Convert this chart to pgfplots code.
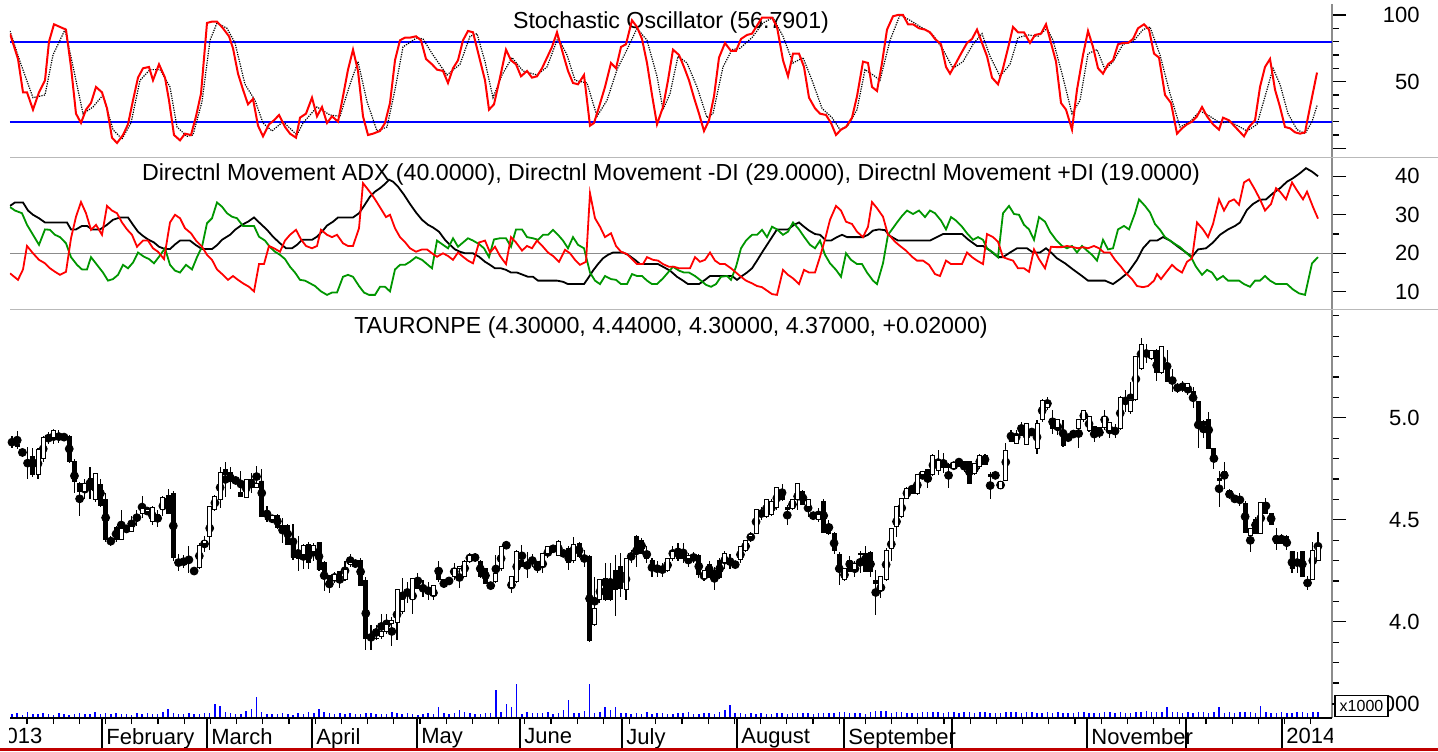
\documentclass[border=0pt]{standalone}
\usepackage{fontspec}
\setmainfont{Liberation Sans}
\usepackage{pgfplots}
\pgfplotsset{compat=1.18}
\usepackage{pgfplotstable}

\definecolor{kred}{RGB}{255,0,0}
\definecolor{digreen}{RGB}{0,150,0}
\definecolor{lvlblue}{RGB}{0,0,255}
\definecolor{sepgray}{RGB}{185,185,185}
\definecolor{axgray}{RGB}{140,140,140}
\definecolor{framered}{RGB}{192,0,0}
\newcommand{\chartfont}{\fontsize{11}{13}\selectfont}
\newcommand{\titlefont}{\fontsize{11.6}{13}\selectfont}

% daily candles, open high low close (PLN)
\pgfplotstableread{
o h l c
4.90 4.91 4.85 4.90
4.87 4.935 4.845 4.86
4.845 4.85 4.81 4.83
4.85 4.855 4.70 4.85
4.81 4.85 4.71 4.72
4.72 4.85 4.70 4.845
4.80 4.91 4.785 4.905
4.91 4.93 4.87 4.91
4.905 4.945 4.87 4.94
4.93 4.94 4.875 4.93
4.91 4.92 4.89 4.91
4.91 4.915 4.78 4.785
4.785 4.80 4.63 4.69
4.68 4.685 4.52 4.64
4.64 4.70 4.60 4.68
4.70 4.76 4.60 4.65
4.60 4.73 4.585 4.725
4.675 4.70 4.56 4.57
4.60 4.63 4.39 4.405
4.41 4.42 4.37 4.39
4.46 4.47 4.39 4.405
4.405 4.548 4.40 4.455
4.455 4.47 4.44 4.445
4.445 4.52 4.44 4.465
4.51 4.55 4.47 4.51
4.53 4.617 4.507 4.555
4.54 4.555 4.53 4.548
4.49 4.565 4.475 4.56
4.525 4.548 4.466 4.515
4.548 4.615 4.52 4.61
4.617 4.65 4.53 4.53
4.63 4.64 4.30 4.316
4.305 4.33 4.25 4.275
4.30 4.327 4.262 4.29
4.30 4.37 4.237 4.305
4.25 4.26 4.237 4.245
4.267 4.385 4.26 4.376
4.383 4.42 4.343 4.398
4.42 4.567 4.35 4.567
4.551 4.62 4.545 4.613
4.60 4.76 4.556 4.73
4.747 4.785 4.61 4.72
4.73 4.76 4.65 4.69
4.698 4.70 4.685 4.69
4.633 4.74 4.61 4.613
4.61 4.698 4.61 4.698
4.698 4.727 4.63 4.66
4.66 4.763 4.66 4.678
4.69 4.747 4.515 4.515
4.515 4.567 4.49 4.50
4.50 4.52 4.49 4.52
4.52 4.53 4.455 4.46
4.47 4.51 4.388 4.46
4.47 4.48 4.38 4.381
4.40 4.48 4.305 4.316
4.34 4.42 4.25 4.31
4.33 4.38 4.26 4.375
4.38 4.39 4.26 4.29
4.343 4.385 4.30 4.376
4.388 4.39 4.25 4.254
4.29 4.30 4.152 4.245
4.225 4.23 4.14 4.19
4.20 4.245 4.19 4.23
4.245 4.25 4.165 4.205
4.205 4.30 4.20 4.254
4.28 4.33 4.27 4.29
4.29 4.30 4.27 4.295
4.30 4.31 4.18 4.18
4.20 4.22 3.862 3.92
3.93 3.985 3.862 3.915
3.918 3.985 3.91 3.92
3.93 4.04 3.914 3.95
3.95 4.04 3.94 3.985
3.99 4.025 3.88 4.005
3.997 4.16 3.91 4.16
4.05 4.213 4.04 4.11
4.14 4.197 4.09 4.142
4.107 4.213 4.04 4.213
4.213 4.237 4.163 4.164
4.164 4.205 4.123 4.156
4.16 4.197 4.107 4.163
4.131 4.176 4.107 4.176
4.245 4.30 4.197 4.205
4.205 4.21 4.164 4.20
4.20 4.21 4.19 4.205
4.221 4.286 4.205 4.262
4.262 4.27 4.164 4.27
4.221 4.303 4.221 4.295
4.295 4.335 4.29 4.327
4.32 4.335 4.295 4.31
4.295 4.305 4.215 4.221
4.262 4.265 4.188 4.188
4.18 4.19 4.164 4.176
4.197 4.327 4.19 4.237
4.262 4.37 4.25 4.368
4.385 4.39 4.36 4.37
4.17 4.221 4.139 4.221
4.197 4.35 4.19 4.343
4.30 4.376 4.27 4.27
4.28 4.34 4.212 4.286
4.30 4.33 4.27 4.30
4.295 4.30 4.237 4.278
4.27 4.33 4.237 4.335
4.335 4.37 4.31 4.368
4.36 4.37 4.345 4.35
4.327 4.40 4.32 4.395
4.345 4.35 4.32 4.32
4.36 4.37 4.254 4.29
4.30 4.417 4.29 4.38
4.384 4.39 4.31 4.32
4.343 4.35 4.27 4.343
4.32 4.327 3.90 3.91
3.985 4.221 3.98 4.066
4.107 4.205 4.09 4.205
4.213 4.286 4.10 4.107
4.20 4.286 4.10 4.11
4.25 4.327 4.03 4.156
4.27 4.335 4.12 4.164
4.156 4.31 4.107 4.31
4.343 4.35 4.29 4.343
4.417 4.425 4.27 4.335
4.40 4.41 4.335 4.335
4.335 4.37 4.29 4.31
4.30 4.31 4.221 4.27
4.265 4.30 4.22 4.262
4.26 4.29 4.221 4.25
4.25 4.31 4.245 4.31
4.31 4.37 4.30 4.343
4.343 4.385 4.30 4.31
4.343 4.385 4.29 4.31
4.31 4.335 4.27 4.327
4.335 4.34 4.29 4.335
4.327 4.33 4.213 4.23
4.213 4.25 4.20 4.25
4.28 4.30 4.215 4.215
4.25 4.27 4.155 4.215
4.30 4.31 4.21 4.215
4.29 4.345 4.26 4.335
4.30 4.33 4.26 4.295
4.295 4.30 4.26 4.295
4.303 4.368 4.29 4.368
4.35 4.40 4.34 4.40
4.417 4.44 4.39 4.43
4.433 4.55 4.43 4.55
4.55 4.56 4.50 4.55
4.515 4.60 4.51 4.60
4.525 4.60 4.52 4.59
4.56 4.662 4.55 4.66
4.645 4.675 4.59 4.60
4.56 4.57 4.475 4.55
4.555 4.60 4.55 4.60
4.597 4.68 4.55 4.68
4.64 4.645 4.57 4.575
4.565 4.60 4.515 4.597
4.53 4.54 4.50 4.52
4.50 4.557 4.49 4.525
4.59 4.60 4.44 4.44
4.47 4.50 4.425 4.435
4.433 4.44 4.33 4.35
4.33 4.34 4.18 4.254
4.205 4.26 4.20 4.26
4.30 4.32 4.245 4.245
4.254 4.30 4.22 4.286
4.33 4.345 4.237 4.335
4.335 4.37 4.245 4.245
4.34 4.345 4.22 4.245
4.20 4.254 4.033 4.188
4.155 4.22 4.115 4.22
4.205 4.36 4.20 4.35
4.36 4.46 4.30 4.458
4.466 4.565 4.417 4.565
4.515 4.605 4.51 4.605
4.605 4.66 4.60 4.654
4.66 4.67 4.63 4.63
4.63 4.72 4.62 4.72
4.72 4.735 4.70 4.735
4.745 4.75 4.654 4.70
4.72 4.82 4.715 4.817
4.744 4.84 4.72 4.79
4.76 4.825 4.728 4.755
4.77 4.78 4.655 4.755
4.752 4.785 4.745 4.78
4.80 4.805 4.76 4.80
4.78 4.79 4.735 4.785
4.785 4.79 4.68 4.68
4.725 4.78 4.72 4.775
4.76 4.82 4.75 4.817
4.817 4.82 4.77 4.77
4.72 4.735 4.60 4.71
4.72 4.735 4.70 4.72
4.655 4.69 4.65 4.69
4.695 4.875 4.69 4.842
4.915 4.94 4.88 4.883
4.875 4.94 4.87 4.915
4.94 4.98 4.915 4.915
4.87 4.97 4.865 4.97
4.94 4.945 4.915 4.92
4.85 4.99 4.82 4.97
4.99 5.09 4.98 5.085
5.05 5.10 5.04 5.07
4.995 5.04 4.92 4.948
4.95 4.995 4.915 4.99
4.915 4.99 4.858 4.866
4.907 4.915 4.89 4.905
4.91 4.94 4.90 4.915
4.948 4.995 4.85 4.99
4.99 5.04 4.98 5.035
4.94 5.01 4.93 5.005
4.955 4.96 4.88 4.93
4.95 4.955 4.90 4.94
4.95 5.04 4.94 5.005
4.94 4.98 4.90 4.975
4.955 4.97 4.90 4.955
4.948 5.105 4.94 5.10
5.087 5.135 5.03 5.07
5.03 5.176 5.02 5.087
5.09 5.30 5.08 5.30
5.24 5.39 5.235 5.36
5.33 5.36 5.27 5.33
5.29 5.33 5.285 5.33
5.33 5.335 5.18 5.22
5.22 5.35 5.215 5.35
5.26 5.33 5.175 5.18
5.18 5.237 5.128 5.18
5.16 5.17 5.123 5.145
5.14 5.18 5.125 5.14
5.15 5.17 5.11 5.168
5.127 5.15 5.046 5.087
5.08 5.08 4.85 4.965
4.98 4.99 4.90 4.968
4.99 5.03 4.85 4.85
4.85 4.85 4.75 4.812
4.70 4.74 4.564 4.695
4.736 4.785 4.65 4.70
4.645 4.65 4.60 4.613
4.605 4.615 4.59 4.597
4.605 4.63 4.565 4.605
4.58 4.59 4.44 4.44
4.425 4.455 4.343 4.455
4.50 4.515 4.433 4.435
4.435 4.585 4.43 4.585
4.585 4.605 4.53 4.53
4.53 4.535 4.475 4.479
4.42 4.46 4.35 4.385
4.42 4.43 4.38 4.385
4.42 4.425 4.35 4.385
4.343 4.345 4.237 4.262
4.30 4.343 4.237 4.29
4.343 4.345 4.22 4.22
4.22 4.225 4.155 4.22
4.205 4.393 4.205 4.35
4.30 4.44 4.30 4.37
}\candles

% daily volume, thousands of shares
\pgfplotstableread[row sep=\\]{
v\\300\\350\\250\\400\\320\\280\\360\\300\\250\\330\\280\\240\\300\\350\\310\\270\\420\\300\\380\\260\\
330\\280\\300\\250\\340\\290\\360\\310\\300\\420\\640\\330\\300\\280\\350\\300\\260\\340\\370\\1000\\
860\\420\\350\\260\\300\\500\\640\\1500\\450\\320\\300\\280\\360\\300\\250\\330\\310\\400\\350\\640\\
450\\380\\300\\330\\260\\350\\300\\280\\330\\350\\270\\310\\300\\420\\350\\300\\380\\300\\250\\300\\
350\\300\\790\\360\\280\\330\\600\\420\\350\\300\\280\\330\\360\\1980\\420\\1000\\820\\2430\\300\\420\\
350\\380\\330\\400\\300\\350\\600\\1290\\380\\330\\520\\2430\\360\\450\\790\\570\\790\\380\\330\\300\\
350\\280\\420\\300\\330\\350\\300\\280\\360\\350\\400\\300\\280\\330\\360\\300\\420\\570\\900\\350\\
330\\300\\350\\300\\330\\280\\300\\350\\330\\300\\380\\360\\330\\350\\300\\380\\360\\330\\350\\400\\
400\\330\\380\\350\\300\\430\\520\\500\\480\\330\\400\\430\\380\\380\\350\\400\\430\\420\\400\\380\\
430\\400\\380\\430\\420\\380\\400\\430\\360\\330\\380\\400\\430\\420\\380\\400\\450\\380\\330\\400\\
350\\420\\380\\330\\380\\450\\400\\330\\350\\380\\460\\400\\330\\420\\380\\350\\400\\430\\500\\420\\
400\\430\\790\\400\\430\\380\\400\\350\\420\\430\\380\\400\\790\\380\\400\\350\\430\\420\\400\\380\\
880\\420\\380\\350\\400\\330\\380\\430\\400\\350\\420\\450\\
}\vol

\pgfplotsset{
  panel/.style={
    scale only axis, width=661pt, xmin=10, xmax=1332,
    anchor=north west,
    axis x line=none, axis y line*=right,
    y axis line style={draw=axgray, line width=0.6pt},
    tick align=outside,
    major tick length=7pt, minor tick length=3.5pt,
    every tick/.style={black, line width=0.6pt},
    tick label style={font=\chartfont},
    yticklabel style={anchor=east, inner sep=0pt, xshift=37pt},
    /pgf/number format/assume math mode=true,
  },
}

\begin{document}
\begin{tikzpicture}

% stochastic oscillator
\begin{axis}[panel, at={(5pt,-2pt)}, height=76.5pt,
  ymin=-6.5, ymax=108.2,
  ytick={0,50,100}, yticklabels={{},50,100},
  minor ytick={10,20,30,40,60,70,80,90},
]
\node[font=\titlefont, inner sep=0pt] at (axis description cs:0.5,0.882) {Stochastic Oscillator (56.7901)};
\addplot[lvlblue, line width=1pt] coordinates {(10,80) (1332,80)};
\addplot[lvlblue, line width=1pt] coordinates {(10,20) (1332,20)};
\addplot[black, line width=0.6pt, dash pattern=on 0.6pt off 0.6pt] coordinates {
(10,88) (20,65) (33,38) (45,40) (53,70) (65,89) (72,65) (83,26) (93,31) (103,40) (113,14) (122,7) (131,19) (140,51) (150,59) (160,59) (170,46) (177,16) (187,9) (193,10) (202,35) (210,81) (217,94) (227,90) (235,79) (245,48) (255,36) (263,19) (272,13) (283,20) (297,10) (303,19) (317,31) (330,25) (340,24) (350,48) (358,65) (367,35) (377,13) (387,16) (395,44) (403,76) (417,83) (423,82) (433,70) (447,55) (460,63) (470,84) (477,86) (485,65) (493,38) (502,55) (512,68) (523,58) (537,55) (547,61) (558,83) (567,70) (575,51) (587,49) (597,24) (607,36) (617,59) (627,74) (637,90) (647,81) (657,54) (663,29) (670,41) (678,69) (687,64) (697,46) (707,23) (713,26) (723,61) (732,74) (740,75) (752,83) (763,94) (773,98) (783,84) (793,64) (803,68) (812,51) (822,30) (832,23) (840,14) (848,17) (857,29) (865,59) (873,55) (880,51) (890,81) (900,100) (910,96) (923,90) (933,85) (943,74) (953,60) (963,65) (973,78) (982,86) (990,69) (1000,54) (1010,63) (1018,83) (1028,85) (1038,84) (1047,90) (1053,81) (1062,56) (1072,26) (1080,36) (1088,71) (1097,74) (1105,59) (1113,65) (1123,78) (1133,80) (1143,89) (1150,91) (1160,70) (1170,41) (1180,16) (1190,20) (1200,28) (1210,24) (1220,19) (1230,20) (1240,16) (1247,13) (1257,18) (1267,44) (1273,60) (1280,48) (1288,26) (1297,14) (1305,11) (1312,20) (1317,32)
};
\addplot[kred, line width=1pt] coordinates {
(10,86) (18,67) (23,42) (27,42) (33,29) (39,42) (45,51) (49,80) (54,93) (60,91) (66,89) (71,61) (76,26) (81,19) (86,29) (91,34) (96,46) (102,42) (107,30) (112,8) (117,4) (123,10) (128,18) (133,36) (138,53) (143,60) (149,61) (153,51) (159,63) (165,53) (169,36) (174,10) (180,6) (185,11) (191,10) (196,24) (201,41) (207,94) (212,95) (217,95) (223,90) (229,84) (233,75) (238,56) (243,44) (248,33) (253,37) (258,17) (263,9) (269,18) (274,21) (279,25) (285,16) (290,11) (296,8) (300,23) (306,26) (312,38) (317,24) (322,31) (327,19) (332,24) (338,20) (343,39) (348,59) (353,74) (358,58) (363,24) (368,10) (373,11) (380,13) (385,19) (390,34) (395,66) (400,81) (405,83) (410,83) (416,84) (421,81) (426,67) (432,63) (437,59) (443,58) (448,49) (453,60) (458,66) (463,81) (468,88) (473,87) (479,69) (485,51) (489,29) (494,33) (500,53) (506,74) (511,66) (516,63) (521,54) (527,58) (532,53) (537,54) (542,60) (547,68) (552,76) (557,87) (563,71) (568,58) (573,49) (578,48) (584,55) (590,17) (594,19) (599,31) (605,46) (611,64) (616,60) (621,76) (626,78) (632,96) (637,91) (642,82) (647,64) (652,40) (657,18) (663,31) (668,51) (673,74) (679,70) (684,61) (689,51) (694,38) (699,26) (704,13) (709,21) (714,39) (719,68) (725,79) (731,73) (736,73) (741,82) (747,85) (752,86) (757,92) (762,98) (767,98) (772,98) (777,91) (783,66) (788,54) (793,71) (799,71) (804,61) (809,38) (815,30) (820,26) (826,25) (831,19) (836,10) (841,14) (846,16) (852,23) (857,39) (863,65) (868,64) (872,46) (877,43) (882,64) (887,89) (893,99) (898,100) (903,100) (908,93) (913,93) (919,90) (925,89) (930,87) (935,82) (941,78) (946,61) (950,56) (956,64) (961,71) (967,79) (972,82) (977,89) (982,79) (987,69) (992,53) (998,48) (1003,60) (1008,75) (1013,91) (1018,87) (1024,87) (1030,79) (1035,85) (1041,86) (1046,93) (1051,79) (1056,65) (1061,34) (1066,29) (1072,14) (1077,44) (1083,70) (1088,88) (1093,76) (1098,60) (1103,56) (1108,63) (1113,66) (1118,78) (1123,79) (1128,79) (1133,82) (1138,90) (1144,93) (1149,89) (1154,71) (1159,68) (1165,40) (1171,34) (1177,11) (1182,15) (1187,18) (1192,20) (1197,24) (1202,31) (1207,24) (1213,18) (1219,14) (1223,23) (1229,21) (1234,17) (1239,13) (1244,9) (1249,16) (1255,21) (1260,46) (1265,61) (1270,67) (1275,44) (1280,31) (1285,16) (1290,15) (1295,12) (1300,11) (1305,12) (1310,31) (1317,56.8)
};
\end{axis}

% directional movement
\begin{axis}[panel, at={(5pt,-78.5pt)}, height=76pt,
  ymin=5.53, ymax=45.0,
  ytick={10,20,30,40}, minor ytick={15,25,35},
]
\node[font=\titlefont, inner sep=0pt] at (axis description cs:0.5,0.882) {Directnl Movement ADX (40.0000), Directnl Movement -DI (29.0000), Directnl Movement +DI (19.0000)};
\addplot[axgray, line width=0.7pt] coordinates {(10,20) (1332,20)};
\addplot[black, line width=0.9pt] coordinates {
(10,32.3) (15,33.2) (23,33.2) (28,31.1) (33,30) (39,29.1) (45,28) (55,28) (67,28) (71,26.2) (76,26.2) (82,27.1) (87,27.1) (92,26.2) (100,26.2) (107,27.4) (113,28.7) (120,29.3) (128,29.3) (133,27.4) (138,25.6) (143,24.5) (148,23.6) (154,22.8) (159,21.7) (165,21.1) (170,21.1) (175,22.3) (180,23.3) (190,23.3) (196,22.1) (202,21.1) (212,21.1) (217,22.1) (222,23.5) (230,24.8) (235,26.1) (242,27.4) (248,28.2) (254,29.3) (260,27.8) (267,26.1) (273,24.3) (280,22.6) (286,21.3) (292,21.3) (297,22.2) (302,23.5) (312,23.5) (317,24.3) (322,25.6) (327,27.2) (333,28.2) (338,29.3) (353,29.3) (359,30.4) (364,32.3) (370,34.7) (375,36) (380,36.9) (385,38) (389,39.1) (393,38.6) (398,37.3) (404,35.2) (410,32.8) (416,30.6) (422,28.7) (428,27.4) (433,26.7) (439,25.6) (445,23.5) (450,22.2) (455,21) (460,20.4) (465,20) (473,20) (479,19.1) (485,17.8) (490,17) (495,16.1) (501,16.1) (506,15.7) (511,15) (517,15) (523,14.4) (528,13.9) (533,13.9) (538,12.9) (557,12.9) (563,12.6) (568,12) (584,12) (588,13.5) (593,15.5) (598,17.2) (603,18.7) (608,19.6) (613,20.2) (623,20.2) (628,19.6) (635,18.3) (640,17.2) (658,17.2) (663,16.5) (670,15.5) (677,13.9) (683,12.9) (688,12) (699,12) (705,13.1) (710,14.1) (732,14.1) (737,13.1) (742,14.1) (747,15) (752,16.1) (757,18.1) (762,20.2) (767,22.2) (772,24.2) (777,26.2) (788,26.2) (794,27.4) (799,28) (804,26.9) (809,25.9) (815,25) (820,24.8) (826,23.3) (831,23.3) (837,24.2) (842,24.8) (847,24.2) (863,24.2) (868,24.8) (873,25.9) (879,26.2) (885,26) (890,24.5) (898,23.3) (930,23.3) (937,24.2) (943,25) (962,25) (968,23.6) (977,21.9) (983,21.9) (990,20.7) (998,19) (1003,19) (1010,20.2) (1017,21.3) (1027,21.3) (1033,20.2) (1040,20.2) (1046,21.3) (1051,20.2) (1057,18.7) (1065,17.4) (1073,15.8) (1082,14.1) (1088,12.9) (1105,12.9) (1113,12) (1120,13.3) (1128,15) (1137,18.3) (1143,21.3) (1150,23.3) (1157,23.3) (1163,24.2) (1170,23.3) (1178,21.7) (1185,20.4) (1192,19.1) (1198,21) (1206,21.3) (1213,22.8) (1220,24.8) (1228,26.2) (1235,27.1) (1240,28) (1247,31.3) (1253,32.8) (1260,33.9) (1266,34) (1273,35.6) (1280,36.9) (1287,38.6) (1293,39.5) (1300,40.8) (1306,42.1) (1312,41.2) (1318,40)
};
\addplot[digreen, line width=0.9pt] coordinates {
(10,32) (15,31.1) (22,30.4) (27,27.4) (33,24.8) (39,22.2) (45,26.2) (50,26.1) (55,24.8) (60,24.2) (66,22.6) (71,19) (77,17) (82,15.8) (87,15.8) (91,19) (97,17) (103,15) (108,12.9) (113,13.3) (118,14.4) (123,17) (128,16.1) (133,17.6) (138,20.2) (144,19.1) (149,18.5) (154,17.4) (159,19.1) (165,21.3) (170,17) (175,15.5) (180,15) (186,17) (192,15.8) (197,19) (202,21.7) (207,27.8) (212,29.1) (217,33.2) (222,32.1) (227,30.4) (232,29.5) (237,29.1) (243,27.1) (254,27.1) (259,24.3) (265,23.3) (270,21.6) (275,20.4) (280,19.6) (285,18.5) (290,16.5) (295,15) (300,13.1) (305,12.9) (310,12.2) (315,11.5) (321,10.1) (327,9.2) (332,9.8) (337,9.8) (343,13.9) (348,14.4) (353,13.9) (359,11.5) (364,9.8) (369,9.2) (375,9.2) (380,11.3) (385,11.3) (390,10.1) (395,15.8) (400,17) (405,17) (410,17.8) (416,19) (422,18.3) (427,17.2) (432,16.1) (437,23.3) (443,22.2) (448,21.3) (453,23.9) (458,21.7) (463,22.8) (468,23.9) (473,23.3) (479,22.4) (484,21.3) (489,19) (494,23.6) (500,23.9) (506,23.9) (511,21.7) (516,26.2) (522,26.2) (527,24.2) (533,23.9) (538,23.5) (543,24.8) (548,24.8) (553,26.1) (558,24.8) (563,23.3) (568,21.3) (573,24.2) (578,22.2) (584,21.3) (590,15) (595,12.9) (600,12) (605,14.1) (611,13.3) (616,13.1) (621,12) (627,12) (632,14.6) (637,14.1) (642,14.1) (647,12.9) (652,12) (657,12) (663,13.5) (668,15) (673,16.5) (679,15.5) (684,15) (689,15) (695,14.1) (700,13.1) (706,11.8) (711,11.3) (716,12) (721,13.9) (727,14.1) (731,13.1) (736,16.5) (741,21.3) (746,23.3) (752,24.8) (757,24.8) (762,26.1) (767,24.2) (772,26.9) (777,26.2) (783,24.8) (788,25.6) (793,28) (799,26.2) (804,24.3) (810,22.2) (815,21.3) (820,23.3) (825,19.6) (830,17.4) (836,15.7) (841,13.9) (846,20) (851,18.3) (857,17.2) (862,17.2) (867,15) (873,12.9) (877,12) (883,17.4) (888,24.8) (892,26.2) (897,28) (902,29.7) (907,31.1) (913,30.2) (919,31.1) (925,29.4) (930,31.1) (935,30.4) (941,28.5) (946,26.2) (951,29.4) (956,28.5) (962,26.9) (967,25.2) (973,23.5) (978,24.2) (983,23.5) (987,21.3) (993,20.2) (998,19) (1003,30.4) (1009,32.3) (1014,30.2) (1019,30) (1024,27.4) (1029,26.2) (1034,23.5) (1039,29.4) (1045,28.2) (1050,25.6) (1056,23.5) (1062,21.9) (1067,21.3) (1072,21.9) (1077,20.2) (1082,21.9) (1087,20.7) (1092,19.6) (1097,18.1) (1103,23.5) (1108,21) (1113,21.3) (1118,26.2) (1124,27.1) (1129,26.2) (1135,30.4) (1139,34) (1145,32.3) (1150,30.6) (1155,27.6) (1160,26.1) (1165,24.2) (1170,23.3) (1175,22.4) (1180,21.6) (1185,20.4) (1191,19) (1196,16.5) (1202,14.4) (1207,15.7) (1212,15) (1217,13.1) (1223,14.1) (1228,12.9) (1239,12.9) (1244,12) (1250,11.3) (1255,12.9) (1260,12.9) (1265,14.1) (1270,12.9) (1276,12) (1287,12) (1293,10.6) (1299,9.6) (1305,9.2) (1312,17.4) (1318,19)
};
\addplot[kred, line width=0.9pt] coordinates {
(10,14.8) (18,13.1) (23,15.8) (27,21.9) (33,20) (39,18.3) (45,17.4) (50,16.1) (55,15.2) (60,14.4) (66,15.2) (71,23.9) (76,29.5) (81,33.3) (86,30.4) (91,26.1) (96,27.4) (102,24.8) (107,32.3) (112,31.1) (117,30.4) (122,28) (127,26.2) (132,24.8) (137,21.7) (143,23.3) (148,23.3) (153,21.3) (158,20.4) (164,18.5) (170,28) (175,30) (180,29.1) (185,26.5) (191,25.2) (196,23.3) (202,21.7) (207,19.6) (212,18.3) (217,15.8) (223,14.4) (228,13.1) (233,14.1) (238,13.1) (243,12.2) (249,11.3) (254,10.1) (259,17.2) (264,17.2) (269,21.9) (274,21.3) (280,20.4) (285,23.3) (290,24.8) (296,26.1) (301,23.6) (306,21.9) (312,21.3) (317,21.9) (321,26.1) (327,24.8) (332,24.2) (337,24.8) (343,22.6) (348,21.9) (353,21.9) (359,26.5) (363,38.2) (367,36.9) (372,35.2) (377,33.2) (382,31.1) (386,29.4) (390,30) (395,26.5) (400,24.2) (405,22.9) (410,21.3) (416,20.4) (422,21) (427,21) (432,20) (437,19.1) (443,20) (448,19.3) (453,18.3) (458,20.2) (463,19.1) (468,18.1) (473,17.4) (479,22.8) (485,23.3) (490,20.2) (495,21.7) (500,19.3) (506,17.2) (511,24.2) (516,22.8) (522,20.7) (527,21.9) (532,21.3) (537,23.3) (543,21.7) (548,20.2) (553,19.3) (559,17.8) (565,20.9) (570,20) (575,18.3) (580,17) (586,17.8) (590,35.6) (595,29.1) (600,26.9) (605,24.2) (611,25.2) (616,21.9) (621,20.4) (627,19.8) (632,18.5) (637,17.2) (643,17.2) (647,19) (653,18.3) (658,18.1) (663,17.2) (669,16.5) (674,16.5) (679,16.1) (690,16.1) (695,19) (700,17.8) (705,18.3) (710,20.2) (715,18.1) (720,17.2) (725,17.2) (731,16.1) (736,15) (741,13.9) (746,12.9) (752,12.2) (757,11.5) (762,11.2) (767,10.3) (772,9.4) (777,9.2) (783,15.7) (788,14.4) (793,13.5) (799,12) (804,15.7) (809,15) (815,15) (820,19.1) (825,23.6) (830,28.7) (836,32.3) (841,31.1) (846,28.2) (852,27.6) (857,25.6) (863,24.2) (868,26.9) (872,33.3) (877,31.7) (883,29.5) (888,24.8) (890,24.5) (895,23) (900,21.9) (906,20.7) (912,19.1) (917,18.1) (923,18.1) (929,17) (935,14.6) (940,14.1) (946,18.1) (951,17.2) (962,17.2) (967,20.2) (972,19) (977,18.1) (983,17.2) (987,25) (993,24.2) (998,23) (1003,19) (1008,18.5) (1013,18.1) (1018,16.1) (1024,16.1) (1029,15.2) (1034,21) (1039,18.5) (1045,16.1) (1051,21.7) (1056,21.6) (1062,21.6) (1067,21.9) (1073,21.6) (1078,21.3) (1083,21.6) (1088,21.3) (1094,21.9) (1099,21.3) (1104,20.2) (1110,20.2) (1115,18.3) (1121,16.5) (1126,14.8) (1132,13.3) (1137,11.5) (1143,11.2) (1148,11.5) (1154,12.9) (1157,14.6) (1161,13.3) (1166,15) (1172,17) (1177,15.8) (1182,15) (1187,17.8) (1192,18.7) (1197,28) (1203,26.2) (1208,24.2) (1213,27.6) (1219,34) (1224,31.1) (1229,33.4) (1234,34) (1239,32.6) (1244,38.4) (1249,39.2) (1255,36.5) (1260,34) (1265,31.1) (1271,32.8) (1276,36.9) (1280,36) (1286,34) (1292,38.4) (1297,36.3) (1303,34) (1307,36) (1313,32) (1318,29)
};
\end{axis}

% price: wicks and price scale
\begin{axis}[panel, at={(5pt,-154.5pt)}, height=204.5pt,
  ymin=3.528, ymax=5.533,
  ytick={4,4.5,5},
  minor ytick={3.7,3.8,3.9,4.1,4.2,4.3,4.4,4.6,4.7,4.8,4.9,5.1,5.2,5.3,5.4,5.5},
  yticklabel style={/pgf/number format/.cd, fixed, fixed zerofill, precision=1},
]
\node[font=\titlefont, inner sep=0pt] at (axis description cs:0.5,0.956) {TAURONPE (4.30000, 4.44000, 4.30000, 4.37000, +0.02000)};
\addplot[black, only marks, mark=none,
  error bars/.cd, y dir=both, y explicit, error mark=none,
  error bar style={draw=black, solid, line width=0.55pt}]
  table[x expr=12+5.203*\coordindex, y expr={(\thisrow{h}+\thisrow{l})/2},
        y error expr={(\thisrow{h}-\thisrow{l})/2}] {\candles};
\end{axis}

% price: candle bodies
\begin{axis}[panel, hide axis, at={(5pt,-154.5pt)}, height=204.5pt,
  ymin=3.528, ymax=5.533, ybar stacked, bar width=2pt]
\addplot[draw=none, fill=none] table[x expr=12+5.203*\coordindex,
  y expr={min(\thisrow{o},\thisrow{c})}] {\candles};
\addplot[draw=black, fill=black, line width=0.45pt] table[x expr=12+5.203*\coordindex,
  y expr={max(\thisrow{o}-\thisrow{c},0)}] {\candles};
\addplot[draw=black, fill=white, line width=0.45pt] table[x expr=12+5.203*\coordindex,
  y expr={max(\thisrow{c}-\thisrow{o},0)}] {\candles};
\end{axis}

% volume
\begin{axis}[panel, at={(5pt,-329pt)}, height=30pt,
  ymin=0, ymax=4286,
  y axis line style={draw=none},
  ytick={1000}, yticklabels={1000},
]
\addplot[ycomb, lvlblue, line width=0.75pt, mark=none]
  table[x expr=12+5.203*\coordindex, y=v] {\vol};
\end{axis}

% time scale
\begin{axis}[scale only axis, width=661pt, height=30pt, xmin=10, xmax=1332,
  ymin=0, ymax=1, at={(5pt,-329pt)}, anchor=north west,
  axis x line*=bottom, axis y line=none,
  x axis line style={black, line width=0.6pt},
  tick align=outside, major tick length=15pt, minor tick length=3pt,
  every major tick/.style={black, line width=0.75pt},
  every minor tick/.style={black, line width=0.6pt},
  xtick={102,207,312,417,520,622,737,844,952,1087,1186,1282},
  xticklabels={February,March,April,May,June,July,August,September,{},November,{},2014},
  minor xtick={27,53.2,...,1320},
  xticklabel style={font=\chartfont, anchor=north west, inner sep=0pt, xshift=2pt, yshift=10pt},
]
\end{axis}

\node[font=\chartfont, anchor=north west, inner sep=0pt] at (-3.5pt,-364pt) {2013};
\fill[white] (0pt,-360pt) rectangle (4.5pt,-373.9pt);
\draw[sepgray, line width=0.5pt] (5pt,-78.5pt) -- (719pt,-78.5pt);
\draw[sepgray, line width=0.5pt] (5pt,-154.5pt) -- (719pt,-154.5pt);
\node[draw=black, fill=white, line width=0.6pt, font=\fontsize{8}{9}\selectfont,
  minimum width=26.5pt, minimum height=10.5pt, inner sep=0.5pt] at (680.75pt,-353pt) {x1000};
\fill[white] (666.5pt,-359.5pt) rectangle (700pt,-373.9pt);
\fill[framered] (0pt,-374pt) rectangle (719pt,-375.5pt);

\pgfresetboundingbox
\useasboundingbox (0pt,0pt) rectangle (719pt,-375.5pt);
\end{tikzpicture}
\end{document}
